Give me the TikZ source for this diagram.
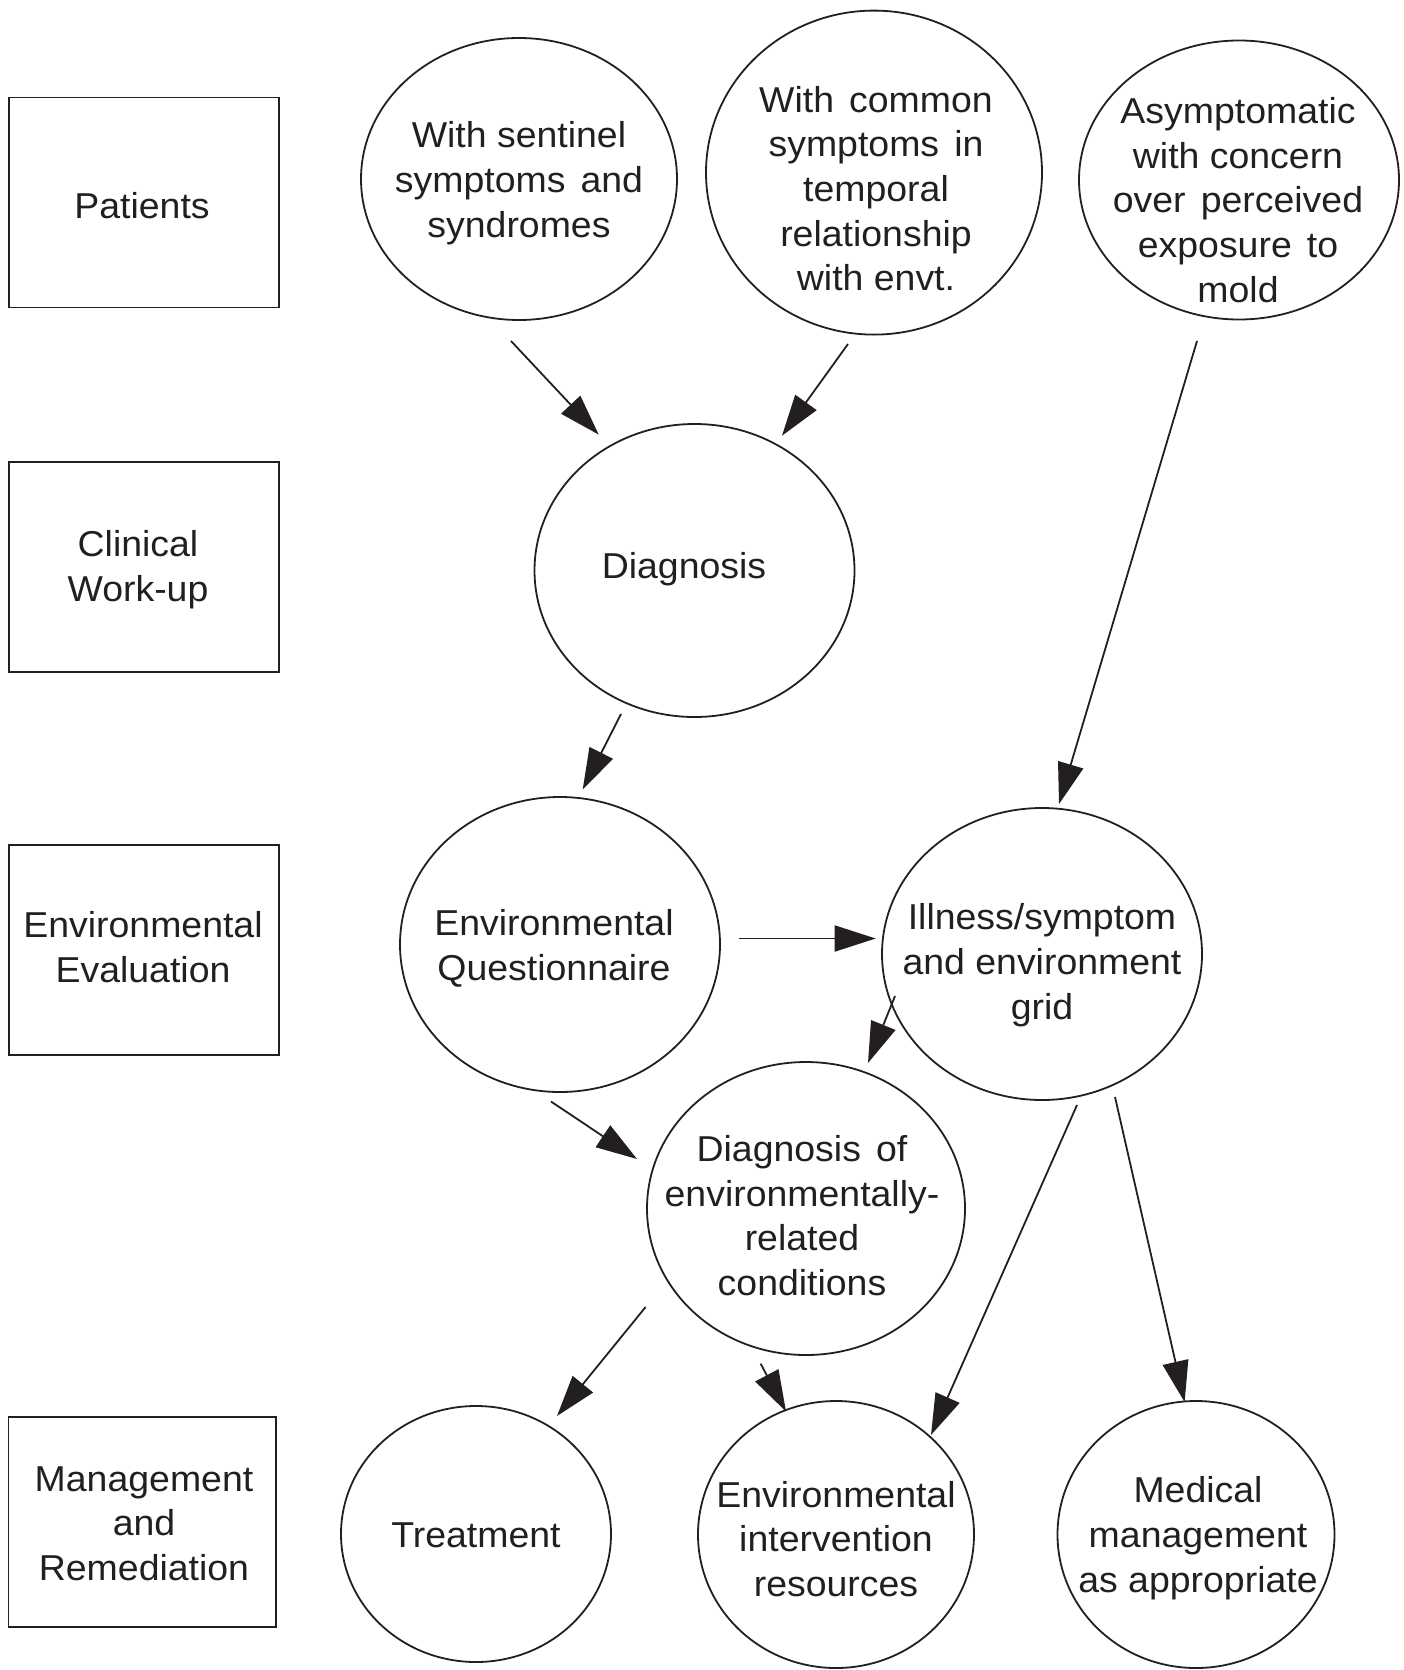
\documentclass[tikz,border=0pt]{standalone}
\usepackage{fontspec}
\setmainfont{Liberation Sans}[FakeStretch=1.04]
\usetikzlibrary{shapes.geometric,arrows.meta}
\definecolor{ink}{HTML}{231F20}
\newcommand\wsp{\hspace{0.42em}}
\begin{document}
\begin{tikzpicture}[x=1pt,y=-1pt,
  every node/.style={text=ink,font=\fontsize{36}{44.7}\selectfont,align=center,inner sep=0pt,outer sep=0pt},
  box/.style={draw=ink,line width=1.6pt,rectangle,minimum width=270pt,minimum height=210pt},
  ell/.style={draw=ink,line width=1.8pt,ellipse},
  txt/.style={},
  arr/.style={draw=ink,line width=1.8pt,-{Triangle[length=41pt,width=26pt]}}]
\useasboundingbox (0,0) rectangle (1404,1670);
% left column boxes
\node[box] (pat) at (143.75,202.5) {};
\node[box] (cli) at (143.75,567) {};
\node[box] (env) at (143.75,950) {};
\node[box,minimum width=267.5pt] (man) at (142.25,1522) {};
\node[txt] (tpat) at (142,205.5) {Patients};
\node[txt] (tcli) at (138,570) {Clinical\\Work-up};
\node[txt] (tenv) at (143,947) {Environmental\\Evaluation};
\node[txt] (tman) at (144,1523.5) {Management\\and\\Remediation};
% ellipses
\node[ell,minimum width=316pt,minimum height=282pt] (e1) at (519,179) {};
\node[ell,minimum width=336pt,minimum height=324pt] (e2) at (874,172.6) {};
\node[ell,minimum width=320pt,minimum height=279pt] (e3) at (1239,180) {};
\node[ell,minimum width=320pt,minimum height=293pt] (dia) at (694.5,570.5) {};
\node[ell,minimum width=320pt,minimum height=295pt] (eq) at (560,944.5) {};
\node[ell,minimum width=320pt,minimum height=292pt] (grid) at (1042,954) {};
\node[ell,minimum width=318pt,minimum height=293pt] (dxe) at (806,1208.5) {};
\node[ell,minimum width=270pt,minimum height=256pt] (tre) at (476,1534) {};
\node[ell,minimum width=276pt,minimum height=267pt] (eir) at (836,1534.5) {};
\node[ell,minimum width=277pt,minimum height=267pt] (med) at (1196,1534.5) {};
% texts
\node[txt] (t1) at (519,183) {With sentinel\\symptoms\wsp and\\syndromes};
\node[txt] (t2) at (876,188.6) {With\wsp common\\symptoms\wsp in\\temporal\\relationship\\with envt.};
\node[txt] (t3) at (1238,200) {Asymptomatic\\with concern\\over\wsp perceived\\exposure\wsp to\\mold};
\node[txt] (tdia) at (684,569) {Diagnosis};
\node[txt] (teq) at (554,948) {Environmental\\Questionnaire};
\node[txt] (tgrid) at (1042,965) {Illness/symptom\\and environment\\grid};
\node[txt] (tdxe) at (802,1215.5) {Diagnosis\wsp of\\environmentally-\\related\\conditions};
\node[txt] (ttre) at (476,1535) {Treatment};
\node[txt] (teir) at (836,1539) {Environmental\\intervention\\resources};
\node[txt] (tmed) at (1198,1538) {Medical\\management\\as appropriate};
% connector ends
\coordinate (a1s) at (511,341);   \coordinate (a1e) at (598.7,434.6);
\coordinate (a2s) at (848,344);   \coordinate (a2e) at (782,435.7);
\coordinate (a3s) at (1197,341);  \coordinate (a3e) at (1059,804);
\coordinate (a4s) at (621,714);   \coordinate (a4e) at (582.7,789.4);
\coordinate (a5s) at (739,938.5); \coordinate (a5e) at (875.7,938.5);
\coordinate (a6s) at (895,996);   \coordinate (a6e) at (868,1063);
\coordinate (a7s) at (551,1101.5);\coordinate (a7e) at (637,1159);
\coordinate (a8s) at (645.6,1307);\coordinate (a8e) at (557,1416);
\coordinate (a9s) at (760.6,1363.6);\coordinate (a9e) at (786,1411.5);
\coordinate (a10s) at (1077,1105);\coordinate (a10e) at (931,1435);
\coordinate (a11s) at (1115,1097);\coordinate (a11e) at (1184.6,1402);
\draw[arr] (a1s) -- (a1e);
\draw[arr] (a2s) -- (a2e);
\draw[arr] (a3s) -- (a3e);
\draw[arr] (a4s) -- (a4e);
\draw[arr] (a5s) -- (a5e);
\draw[arr] (a6s) -- (a6e);
\draw[arr] (a7s) -- (a7e);
\draw[arr] (a8s) -- (a8e);
\draw[arr] (a9s) -- (a9e);
\draw[arr] (a10s) -- (a10e);
\draw[arr] (a11s) -- (a11e);
\end{tikzpicture}
\end{document}
